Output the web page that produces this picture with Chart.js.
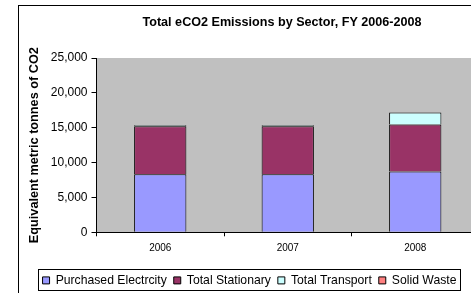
<!DOCTYPE html>
<html>
<head>
<meta charset="utf-8">
<script src="https://cdn.jsdelivr.net/npm/chart.js@4/dist/chart.umd.min.js"></script>
<style>
  html, body { margin: 0; padding: 0; background: #fff; overflow: hidden; }
  #frame { position: absolute; left: 18px; top: 5px; width: 526px; height: 295px; border: 1px solid #000; }
  canvas { display: block; }
</style>
</head>
<body>
<div id="frame"><canvas id="emissionsChart" width="526" height="295"></canvas></div>
<script>
const years = ["2006", "2007", "2008"];
const purchasedElectricity = [8330, 8330, 8720];
const totalStationary = [6880, 6880, 6750];
const totalTransport = [150, 150, 1720];
const solidWaste = [0, 0, 0];
const yTicks = [0, 5000, 10000, 15000, 20000, 25000];

const chartTitle = "Total eCO2 Emissions by Sector, FY 2006-2008";
const fontName = '"Liberation Sans", Arial, sans-serif';

// grey plot area like the Excel original
const plotBackground = {
    id: "plotBackground",
    beforeDraw(chart) {
        const { ctx, chartArea } = chart;
        ctx.save();
        ctx.fillStyle = "#c0c0c0";
        ctx.fillRect(chartArea.left, chartArea.top, chartArea.right - chartArea.left, chartArea.bottom - chartArea.top);
        ctx.restore();
    }
};

// title sits over the whole chart box, not over the legend
const titleText = {
    id: "titleText",
    afterDraw(chart) {
        const ctx = chart.ctx;
        ctx.save();
        ctx.font = "bold 12.6px " + fontName;
        ctx.fillStyle = "#000";
        ctx.textAlign = "center";
        ctx.textBaseline = "middle";
        ctx.fillText(chartTitle, 263, 16.5);
        ctx.restore();
    }
};

// box round the legend
const legendBorder = {
    id: "legendBorder",
    afterDraw(chart) {
        const boxes = chart.legend.legendHitBoxes;
        if (!boxes || !boxes.length) return;
        const first = boxes[0];
        const last = boxes[boxes.length - 1];
        const mid = first.top + first.height / 2;
        const ctx = chart.ctx;
        ctx.save();
        ctx.strokeStyle = "#000";
        ctx.lineWidth = 1;
        const left = Math.round(first.left - 5) + 0.5;
        const right = Math.round(last.left + last.width + 4) + 0.5;
        ctx.strokeRect(left, Math.round(mid - 11) + 0.5, right - left, 21);
        ctx.restore();
    }
};

function dataset(label, data, color) {
    return {
        label: label,
        data: data,
        backgroundColor: color,
        borderColor: "#000",
        borderWidth: 1,
        borderSkipped: "bottom",
        barPercentage: 0.41,
        categoryPercentage: 1
    };
}

new Chart(document.getElementById("emissionsChart"), {
    type: "bar",
    data: {
        labels: years,
        datasets: [
            dataset("Purchased Electrcity", purchasedElectricity, "#9999ff"),
            dataset("Total Stationary", totalStationary, "#993366"),
            dataset("Total Transport", totalTransport, "#ccffff"),
            dataset("Solid Waste", solidWaste, "#ff8080")
        ]
    },
    options: {
        responsive: false,
        animation: false,
        layout: { padding: { left: 1, right: 66, top: 52, bottom: 4.5 } },
        plugins: {
            title: { display: false },
            tooltip: { enabled: false },
            legend: {
                position: "bottom",
                labels: {
                    color: "#000",
                    font: { family: fontName, size: 12.2 },
                    boxWidth: 7,
                    boxHeight: 7,
                    padding: 7
                }
            }
        },
        scales: {
            x: {
                stacked: true,
                grid: { offset: true, drawOnChartArea: false, color: "#000", tickLength: 4 },
                border: { color: "#000", width: 1 },
                ticks: { color: "#000", font: { family: fontName, size: 10 }, padding: 6 },
                afterFit(scale) { scale.height = 35; }
            },
            y: {
                stacked: true,
                min: 0,
                max: 25000,
                afterBuildTicks(scale) { scale.ticks = yTicks.map(v => ({ value: v })); },
                grid: { drawOnChartArea: false, color: "#000", tickLength: 5 },
                border: { color: "#000", width: 1 },
                ticks: {
                    color: "#000",
                    font: { family: fontName, size: 12 },
                    padding: 4,
                    callback: v => v.toLocaleString("en-US")
                },
                title: {
                    display: true,
                    text: "Equivalent metric tonnes of CO2",
                    color: "#000",
                    font: { family: fontName, size: 12.7, weight: "bold" },
                    padding: { top: 7, bottom: 0 }
                },
                afterFit(scale) { scale.width = 76.5; }
            }
        }
    },
    plugins: [plotBackground, titleText, legendBorder]
});
</script>
</body>
</html>
